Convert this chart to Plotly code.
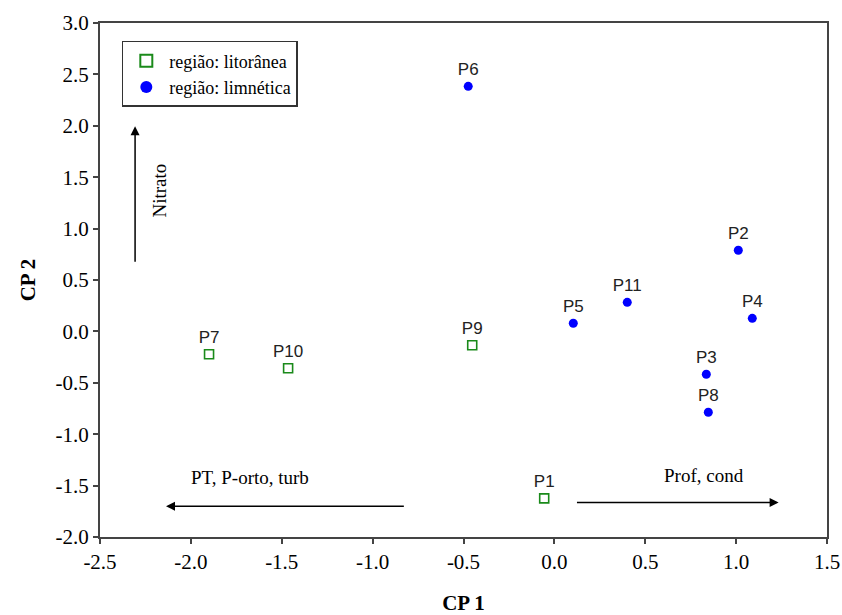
import plotly.graph_objects as go

# Data
lit_labels = ["P1", "P7", "P9", "P10"]
lit_x = [-0.056, -1.90, -0.452, -1.465]
lit_y = [-1.624, -0.223, -0.135, -0.359]

lim_labels = ["P2", "P3", "P4", "P5", "P6", "P8", "P11"]
lim_x = [1.012, 0.836, 1.089, 0.104, -0.474, 0.847, 0.401]
lim_y = [0.789, -0.417, 0.127, 0.079, 2.384, -0.787, 0.283]

x_ticks = [-2.5, -2.0, -1.5, -1.0, -0.5, 0.0, 0.5, 1.0, 1.5]
y_ticks = [-2.0, -1.5, -1.0, -0.5, 0.0, 0.5, 1.0, 1.5, 2.0, 2.5, 3.0]

# Vectors: (name, x_start, y_start, x_end, y_end, label_x, label_y, angle)
vectors = [
    ("Nitrato", -2.307, 0.663, -2.307, 1.995, -2.17, 1.37, -90),
    ("PT, P-orto, turb", -0.82, -1.70, -2.137, -1.70, -1.674, -1.42, 0),
    ("Prof, cond", 0.116, -1.665, 1.234, -1.665, 0.821, -1.40, 0),
]

serif = "Liberation Serif, Times New Roman, serif"
sans = "Arial, Liberation Sans, sans-serif"

fig = go.Figure()
fig.add_trace(go.Scatter(
    x=lit_x, y=lit_y, mode="markers+text", text=lit_labels,
    textposition="top center", textfont=dict(family=sans, size=17, color="#222"),
    marker=dict(symbol="square-open", size=9, color="#1a8a1a", line=dict(width=1.6, color="#1a8a1a")),
    name="região: litorânea",
))
fig.add_trace(go.Scatter(
    x=lim_x, y=lim_y, mode="markers+text", text=lim_labels,
    textposition="top center", textfont=dict(family=sans, size=17, color="#222"),
    marker=dict(symbol="circle", size=9, color="#0000ff"),
    name="região: limnética",
))

for name, x0, y0, x1, y1, lx, ly, ang in vectors:
    fig.add_annotation(
        x=x1, y=y1, ax=x0, ay=y0, xref="x", yref="y", axref="x", ayref="y",
        showarrow=True, arrowhead=2, arrowsize=1.2, arrowwidth=1.5, arrowcolor="black",
        text="",
    )
    fig.add_annotation(
        x=lx, y=ly, xref="x", yref="y", text=name, showarrow=False,
        textangle=ang, font=dict(family=serif, size=19, color="black"),
    )

axis_common = dict(
    showgrid=False, zeroline=False, showline=True, linecolor="#444", linewidth=2,
    mirror=True, ticks="outside", ticklen=5, tickwidth=2, tickcolor="#444",
    tickfont=dict(family=serif, size=21, color="black"), automargin=False,
)

fig.update_xaxes(range=[-2.5, 1.5], tickvals=x_ticks, ticktext=[f"{v:.1f}" for v in x_ticks],
                 title=dict(text="<b>CP 1</b>", font=dict(family=serif, size=21, color="black"), standoff=24),
                 **axis_common)
fig.update_yaxes(range=[-2.0, 3.0], tickvals=y_ticks, ticktext=[f"{v:.1f}" for v in y_ticks],
                 title=dict(text="<b>CP 2</b>", font=dict(family=serif, size=21, color="black"), standoff=14),
                 **axis_common)

fig.update_layout(
    width=842, height=615,
    margin=dict(l=100, r=15, t=23, b=78),
    plot_bgcolor="white", paper_bgcolor="white",
    showlegend=True,
    legend=dict(x=0.03, y=0.965, xanchor="left", yanchor="top",
                bordercolor="#333", borderwidth=1.5, bgcolor="white",
                font=dict(family=serif, size=18, color="black"),
                tracegroupgap=0, itemsizing="constant", itemwidth=36),
)

fig.write_html("out.html")
